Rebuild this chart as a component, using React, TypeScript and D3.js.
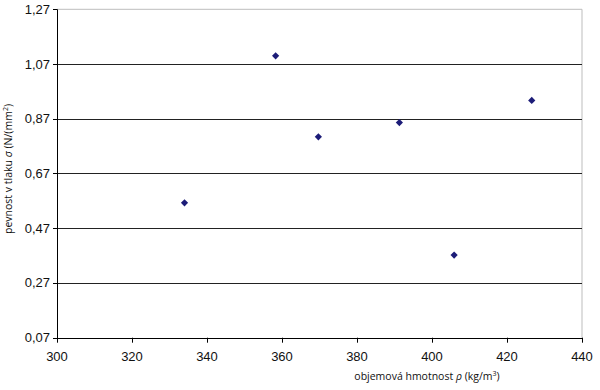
import React from "react";
import * as d3 from "d3";

const densities = [334, 358.3, 369.7, 391.3, 405.9, 426.6];
const strengths = [0.563, 1.1, 0.804, 0.856, 0.372, 0.937];
const xTicks = [300, 320, 340, 360, 380, 400, 420, 440];
const yTicks = [0.07, 0.27, 0.47, 0.67, 0.87, 1.07, 1.27];

export default function App() {
  const W = 600, H = 390;
  const left = 57, right = 582, top = 9.3, bottom = 337.7;
  const x = d3.scaleLinear().domain([300, 440]).range([left, right]);
  const y = d3.scaleLinear().domain([0.07, 1.27]).range([bottom, top]);
  const fmt = (v: number) => v.toFixed(2).replace(".", ",");
  const diamond = d3.symbol().type(d3.symbolSquare).size(26)();
  const font = "Liberation Sans, Arial, sans-serif";
  return (
    <svg width={W} height={H} style={{ position: "absolute", left: 0, top: 0 }}>
      <rect x={0} y={0} width={W} height={H} fill="#fff" />
      {/* top & right frame */}
      <line x1={left} x2={right} y1={y(1.27)} y2={y(1.27)} stroke="#bdbdbd" strokeWidth={1} />
      <line x1={right} x2={right} y1={top} y2={bottom} stroke="#bdbdbd" strokeWidth={1} />
      {/* gridlines */}
      {yTicks.slice(1, -1).map((t) => (
        <line key={t} x1={left} x2={right} y1={Math.round(y(t)) + 0.5} y2={Math.round(y(t)) + 0.5} stroke="#222" strokeWidth={1} />
      ))}
      {/* axes */}
      <line x1={left + 0.5} x2={left + 0.5} y1={top} y2={bottom + 0.5} stroke="#000" strokeWidth={1} />
      <line x1={left} x2={right} y1={Math.round(bottom) + 0.5} y2={Math.round(bottom) + 0.5} stroke="#000" strokeWidth={1} />
      {yTicks.map((t) => (
        <g key={"y" + t}>
          <line x1={left - 4} x2={left} y1={Math.round(y(t)) + 0.5} y2={Math.round(y(t)) + 0.5} stroke="#000" />
          <text x={50} y={y(t) + 4.5} textAnchor="end" fontFamily={font} fontSize={13} fill="#111">{fmt(t)}</text>
        </g>
      ))}
      {xTicks.map((t) => (
        <g key={"x" + t}>
          <line x1={Math.round(x(t)) + 0.5} x2={Math.round(x(t)) + 0.5} y1={bottom} y2={bottom + 5} stroke="#000" />
          <text x={x(t)} y={361} textAnchor="middle" fontFamily={font} fontSize={13} fill="#111">{t}</text>
        </g>
      ))}
      {/* points */}
      {densities.map((d, i) => (
        <path key={i} d={diamond || ""} transform={`translate(${x(d)},${y(strengths[i])}) rotate(45)`} fill="#1c1c78" />
      ))}
      {/* axis titles */}
      <text x={427} y={380} textAnchor="middle" fontFamily="Open Sans, DejaVu Sans, sans-serif" fontSize={10.5} fill="#111">
        objemová hmotnost <tspan fontStyle="italic">ρ</tspan> (kg/m<tspan dy={-4} fontSize={7}>3</tspan><tspan dy={4}>)</tspan>
      </text>
      <text transform="translate(12,169) rotate(-90)" textAnchor="middle" fontFamily="Open Sans, DejaVu Sans, sans-serif" fontSize={10.5} fill="#111">
        pevnost v tlaku <tspan fontStyle="italic">σ</tspan> (N/(mm<tspan dy={-4} fontSize={7}>2</tspan><tspan dy={4}>)</tspan>
      </text>
    </svg>
  );
}
